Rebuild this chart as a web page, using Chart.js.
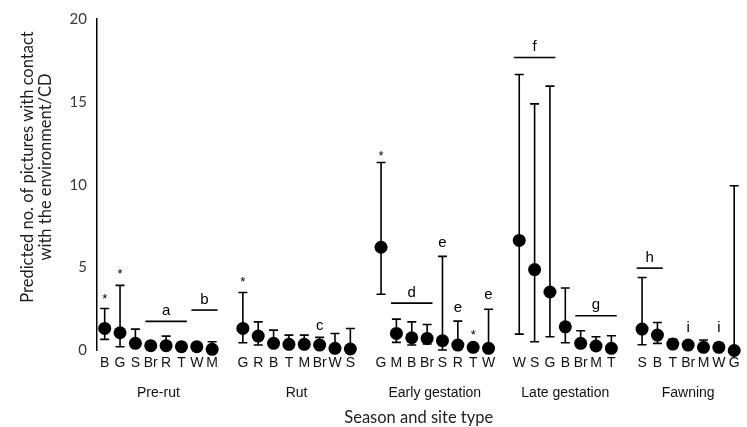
<!DOCTYPE html>
<html>
<head>
<meta charset="utf-8">
<script src="https://cdn.jsdelivr.net/npm/chart.js@4.4.1/dist/chart.umd.min.js"></script>
<style>
html,body{margin:0;padding:0;background:#fff;}
#wrap{width:747px;height:427px;position:relative;}
</style>
</head>
<body>
<div id="wrap"><canvas id="c"></canvas></div>
<script>
// ---- data ----
const siteLabels = ['B','G','S','Br','R','T','W','M','',
                    'G','R','B','T','M','Br','W','S','',
                    'G','M','B','Br','S','R','T','W','',
                    'W','S','G','B','Br','M','T','',
                    'S','B','T','Br','M','W','G'];
const seasonNames = ['Pre-rut','Rut','Early gestation','Late gestation','Fawning'];
const means = [1.33,1.07,0.43,0.29,0.29,0.23,0.23,0.07,null,
               1.33,0.87,0.43,0.37,0.37,0.33,0.13,0.09,null,
               6.23,1.03,0.77,0.73,0.59,0.33,0.19,0.13,null,
               6.64,4.88,3.53,1.43,0.43,0.27,0.13,null,
               1.29,0.93,0.39,0.33,0.19,0.19,0.00];
const upper = [2.53,3.93,1.29,0.40,0.87,0.30,0.30,0.53,null,
               3.50,1.73,1.23,0.93,0.93,0.79,1.03,1.33,null,
               11.34,1.89,1.73,1.57,5.68,1.77,0.30,2.49,null,
               16.65,14.88,15.95,3.77,1.19,0.83,0.89,null,
               4.40,1.69,0.67,0.40,0.63,0.47,9.94];
const lower = [0.67,0.23,0.20,0.20,0.15,0.15,0.15,0.00,null,
               0.47,0.33,0.20,0.15,0.15,0.15,0.00,0.00,null,
               3.39,0.49,0.33,0.39,0.03,0.10,0.10,0.00,null,
               0.99,0.53,0.83,0.47,0.20,0.10,0.00,null,
               0.35,0.43,0.20,0.20,0.05,0.05,0.00];
// significance marks above single sites
const markIndex = [0,1,9,14,18,22,23,24,25,38,40];
const markText  = ['*','*','*','c','*','e','e','*','e','i','i'];
const markLevel = [2.89,4.39,3.91,1.21,11.48,6.26,2.34,0.68,3.12,1.13,1.13];
// group brackets
const bracketText  = ['a','b','d','f','g','h'];
const bracketFrom  = [3,6,19,27,31,35];
const bracketTo    = [5,7,21,29,33,36];
const bracketLevel = [1.76,2.44,2.86,17.68,2.10,4.97];
const yTicks = [0,5,10,15,20];
const yTitleLines = ['Predicted no. of pictures with contact','with the environment/CD'];
const xTitle = 'Season and site type';

// ---- derived ----
const siteTicks = siteLabels.map((l,i)=>l ? i : null).filter(v=>v!==null);
const seasonCenters = (() => {
  const out = []; let start = 0;
  for (let i = 0; i <= siteLabels.length; i++) {
    if (i === siteLabels.length || siteLabels[i] === '') { out.push((start + i - 1) / 2); start = i + 1; }
  }
  return out;
})();
const points = means.map((v,i)=> v===null ? null : {x:i, y:v}).filter(p=>p);

const annot = {
  id: 'annot',
  beforeDatasetsDraw(chart) {
    const {ctx, scales:{x, y}} = chart;
    ctx.save();
    ctx.strokeStyle = '#000';
    ctx.lineWidth = 1.6;
    means.forEach((m,i)=>{
      if (m === null) return;
      const px = x.getPixelForValue(i);
      const t = y.getPixelForValue(upper[i]);
      const b = y.getPixelForValue(lower[i]);
      ctx.beginPath();
      ctx.moveTo(px, t); ctx.lineTo(px, b);
      ctx.moveTo(px-4.5, t); ctx.lineTo(px+4.5, t);
      ctx.moveTo(px-4.5, b); ctx.lineTo(px+4.5, b);
      ctx.stroke();
    });
    ctx.restore();
  },
  afterDatasetsDraw(chart) {
    const {ctx, scales:{x, y}} = chart;
    ctx.save();
    ctx.fillStyle = '#000';
    ctx.strokeStyle = '#000';
    ctx.lineWidth = 1.6;
    ctx.textAlign = 'center';
    ctx.textBaseline = 'alphabetic';
    bracketText.forEach((t,k)=>{
      const x0 = x.getPixelForValue(bracketFrom[k] - 0.35);
      const x1 = x.getPixelForValue(bracketTo[k] + 0.35);
      const py = y.getPixelForValue(bracketLevel[k]);
      ctx.beginPath(); ctx.moveTo(x0, py); ctx.lineTo(x1, py); ctx.stroke();
      ctx.font = '15px "Liberation Sans", Arial, sans-serif';
      ctx.fillText(t, (x0 + x1) / 2, py - 6.5);
    });
    markText.forEach((t,k)=>{
      const px = x.getPixelForValue(markIndex[k]);
      const py = y.getPixelForValue(markLevel[k]);
      ctx.font = (t === '*' ? '13px' : '15px') + ' "Liberation Sans", Arial, sans-serif';
      ctx.fillText(t, px, py);
    });
    ctx.restore();
  },
  afterDraw(chart) {
    const {ctx} = chart;
    ctx.save();
    ctx.fillStyle = '#1e1e1e';
    ctx.font = '16.5px Lato, sans-serif';
    ctx.textAlign = 'center';
    ctx.textBaseline = 'middle';
    ctx.translate(28, 167);
    ctx.rotate(-Math.PI / 2);
    yTitleLines.forEach((l,i)=> ctx.fillText(l, 0, i * 18));
    ctx.restore();
  }
};

new Chart(document.getElementById('c'), {
  type: 'scatter',
  data: {
    datasets: [{
      data: points,
      backgroundColor: '#000',
      borderColor: '#000',
      pointRadius: 6.5,
      pointHoverRadius: 6.5,
      borderWidth: 0,
      clip: false
    }]
  },
  options: {
    responsive: true,
    maintainAspectRatio: false,
    animation: false,
    events: [],
    layout: { padding: { top: 17.5, left: 0, right: 0, bottom: 0 } },
    plugins: { legend: { display: false }, tooltip: { enabled: false } },
    scales: {
      x: {
        type: 'linear', position: 'bottom', weight: 0,
        min: -0.5, max: 41.41,
        grid: { display: false, drawTicks: false },
        border: { display: false },
        afterBuildTicks: s => { s.ticks = siteTicks.map(v => ({ value: v })); },
        ticks: {
          autoSkip: false, maxRotation: 0, minRotation: 0, padding: 4,
          color: '#111',
          font: { family: '"Liberation Sans", Arial, sans-serif', size: 14 },
          callback: v => siteLabels[v]
        },
        afterFit: s => { s.height = 30; s.paddingLeft = 0; s.paddingRight = 0; }
      },
      x2: {
        type: 'linear', position: 'bottom', weight: 1,
        min: -0.5, max: 41.41,
        grid: { display: false, drawTicks: false },
        border: { display: false },
        afterBuildTicks: s => { s.ticks = seasonCenters.map(v => ({ value: v })); },
        ticks: {
          autoSkip: false, maxRotation: 0, minRotation: 0, padding: 4,
          color: '#111',
          font: { family: '"Liberation Sans", Arial, sans-serif', size: 14 },
          callback: (v, i) => seasonNames[i]
        },
        title: {
          display: true, text: xTitle, color: '#1e1e1e',
          font: { family: 'Lato, sans-serif', size: 16.5, lineHeight: 1.1 },
          padding: { top: 0, bottom: 0 }
        },
        afterFit: s => { s.height = 46.5; s.paddingLeft = 0; s.paddingRight = 0; }
      },
      y: {
        type: 'linear', position: 'left',
        min: 0, max: 20,
        grid: { display: false, drawTicks: false },
        border: { display: true, color: '#000', width: 1.5 },
        afterBuildTicks: s => { s.ticks = yTicks.map(v => ({ value: v })); },
        ticks: {
          padding: 10, color: '#3a3a3a',
          font: { family: 'Lato, sans-serif', size: 15 }
        },
        afterFit: s => { s.width = 97; }
      }
    }
  },
  plugins: [annot]
});
</script>
</body>
</html>
